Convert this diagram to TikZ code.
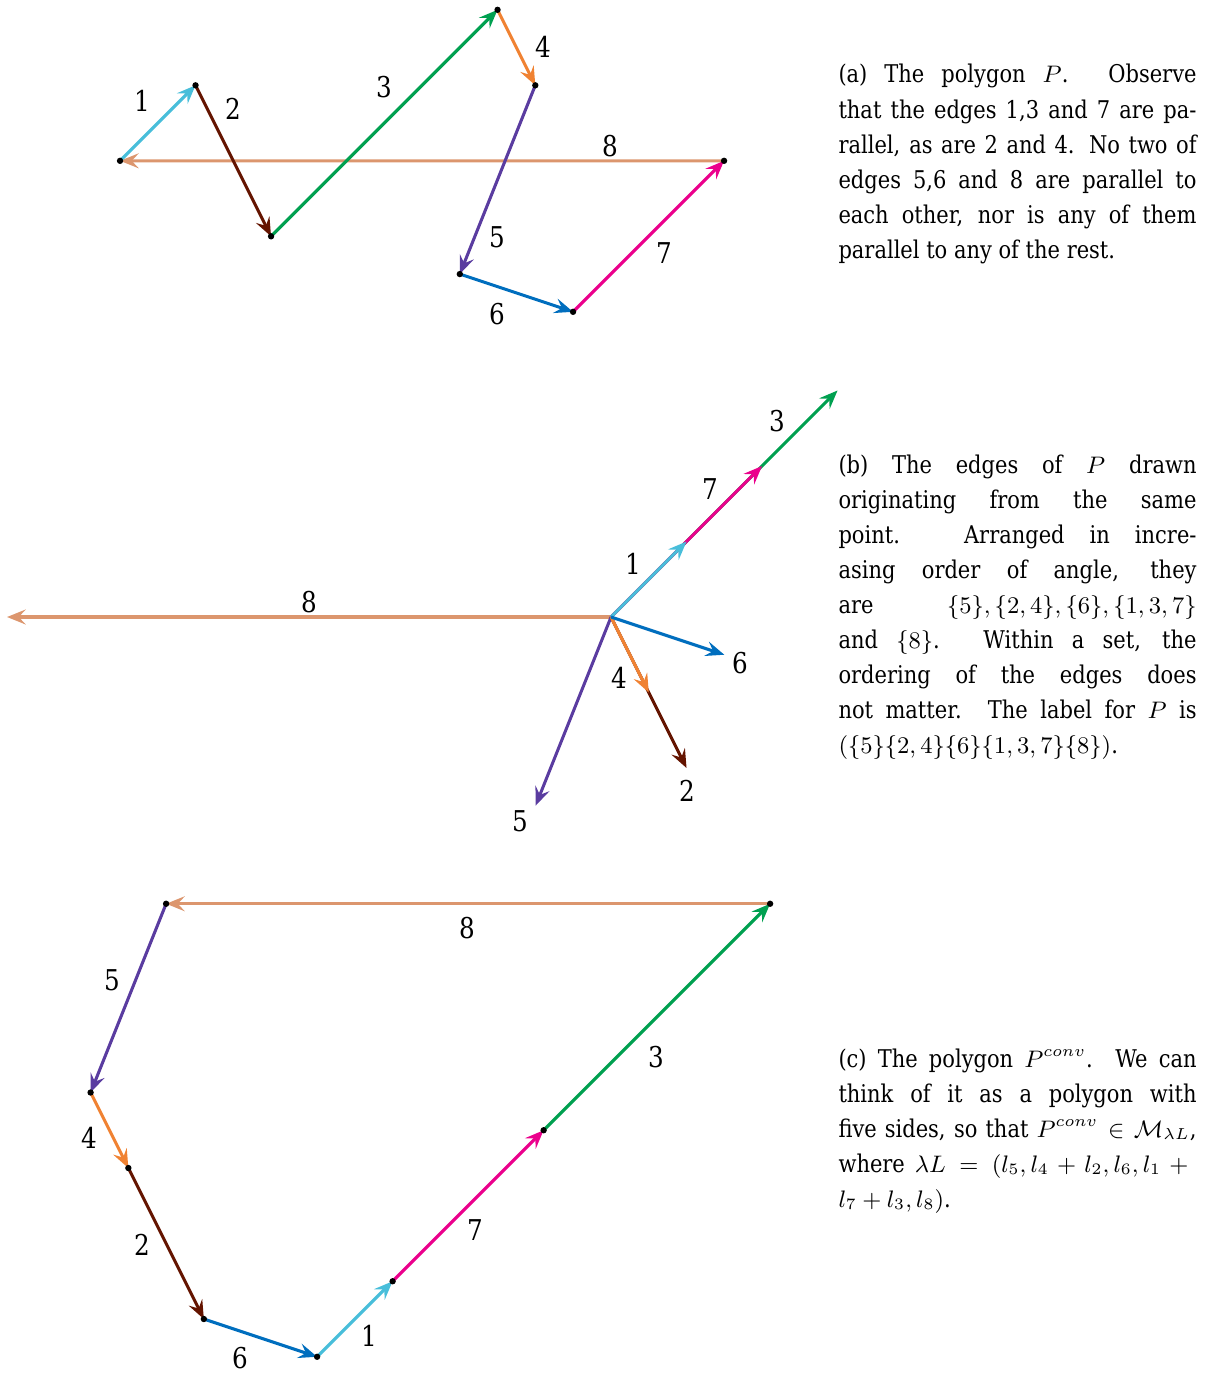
\documentclass[tikz,border=0pt]{standalone}
\usepackage{fontspec}
\setmainfont{DejaVu Serif}[FakeStretch=0.86, WordSpace={1,1,1.8}]
\usepackage{tikz}
\usetikzlibrary{arrows.meta,positioning,calc}
\definecolor{eun}{RGB}{72,190,218}
\definecolor{edeux}{RGB}{100,20,0}
\definecolor{etrois}{RGB}{0,160,80}
\definecolor{equatre}{RGB}{240,130,50}
\definecolor{ecinq}{RGB}{90,60,160}
\definecolor{esix}{RGB}{0,110,190}
\definecolor{esept}{RGB}{235,0,140}
\definecolor{ehuit}{RGB}{220,150,110}
\tikzset{
  edge/.style={line width=1.15pt, -{Stealth[length=7pt,width=5.6pt,inset=2.6pt]}},
  vdot/.style={circle, fill=black, inner sep=0pt, minimum size=2.4pt},
  lbl/.style={font=\fontsize{10.8}{12}\selectfont, inner sep=0pt},
  capt/.style={anchor=base west, inner sep=0pt, text width=4.742cm, align=justify,
               font=\fontsize{9.2}{13.2}\selectfont}
}

\begin{document}
\begin{tikzpicture}
  \useasboundingbox (0,0) rectangle (16.013,-18.185);

  % (a) the polygon P
  \coordinate (a0) at (1.59,-2.13);
  \coordinate (a1) at ($(a0)+(1,1)$);
  \coordinate (a2) at ($(a1)+(1,-2)$);
  \coordinate (a3) at ($(a2)+(3,3)$);
  \coordinate (a4) at ($(a3)+(0.5,-1)$);
  \coordinate (a5) at ($(a4)+(-1,-2.5)$);
  \coordinate (a6) at ($(a5)+(1.5,-0.5)$);
  \coordinate (a7) at ($(a6)+(2,2)$);
  \draw[edge, ehuit] (a7) -- (a0);
  \draw[edge, eun] (a0) -- (a1);
  \draw[edge, edeux] (a1) -- (a2);
  \draw[edge, etrois] (a2) -- (a3);
  \draw[edge, equatre] (a3) -- (a4);
  \draw[edge, ecinq] (a4) -- (a5);
  \draw[edge, esix] (a5) -- (a6);
  \draw[edge, esept] (a6) -- (a7);
  \foreach \i in {0,...,7} \node[vdot] (da\i) at (a\i) {};

  \node[lbl] (la1) at (1.881,-1.338) {1};
  \node[lbl] (la2) at (3.086,-1.444) {2};
  \node[lbl] (la3) at (5.086,-1.152) {3};
  \node[lbl] (la4) at (7.192,-0.623) {4};
  \node[lbl] (la5) at (6.583,-3.139) {5};
  \node[lbl] (la6) at (6.583,-4.159) {6};
  \node[lbl] (la7) at (8.795,-3.351) {7};
  \node[lbl] (la8) at (8.079,-1.934) {8};

  % (b) all edges from one point
  \coordinate (o) at (8.093,-8.172);
  \coordinate (b8) at ($(o)+(-8,0)$);
  \coordinate (b5) at ($(o)+(-1,-2.5)$);
  \coordinate (b3) at ($(o)+(3,3)$);
  \coordinate (b7) at ($(o)+(2,2)$);
  \coordinate (b1) at ($(o)+(1,1)$);
  \coordinate (b2) at ($(o)+(1,-2)$);
  \coordinate (b4) at ($(o)+(0.5,-1)$);
  \coordinate (b6) at ($(o)+(1.5,-0.5)$);
  \draw[edge, ehuit] (o) -- (b8);
  \draw[edge, ecinq] (o) -- (b5);
  \draw[edge, etrois] (o) -- (b3);
  \draw[edge, esept] (o) -- (b7);
  \draw[edge, eun] (o) -- (b1);
  \draw[edge, edeux] (o) -- (b2);
  \draw[edge, equatre] (o) -- (b4);
  \draw[edge, esix] (o) -- (b6);

  \node[lbl] (lb3) at (10.291,-5.576) {3};
  \node[lbl] (lb7) at (9.404,-6.477) {7};
  \node[lbl] (lb1) at (8.384,-7.470) {1};
  \node[lbl] (lb8) at (4.093,-7.974) {8};
  \node[lbl] (lb6) at (9.801,-8.781) {6};
  \node[lbl] (lb4) at (8.199,-8.980) {4};
  \node[lbl] (lb2) at (9.099,-10.477) {2};
  \node[lbl] (lb5) at (6.887,-10.874) {5};

  % (c) the polygon P^conv
  \coordinate (c0) at (10.20,-11.97);
  \coordinate (c1) at ($(c0)+(-8,0)$);
  \coordinate (c2) at ($(c1)+(-1,-2.5)$);
  \coordinate (c3) at ($(c2)+(0.5,-1)$);
  \coordinate (c4) at ($(c3)+(1,-2)$);
  \coordinate (c5) at ($(c4)+(1.5,-0.5)$);
  \coordinate (c6) at ($(c5)+(1,1)$);
  \coordinate (c7) at ($(c6)+(2,2)$);
  \draw[edge, ehuit] (c0) -- (c1);
  \draw[edge, ecinq] (c1) -- (c2);
  \draw[edge, equatre] (c2) -- (c3);
  \draw[edge, edeux] (c3) -- (c4);
  \draw[edge, esix] (c4) -- (c5);
  \draw[edge, eun] (c5) -- (c6);
  \draw[edge, esept] (c6) -- (c7);
  \draw[edge, etrois] (c7) -- (c0);
  \foreach \i in {0,...,7} \node[vdot] (dc\i) at (c\i) {};

  \node[lbl] (lc8) at (6.185,-12.291) {8};
  \node[lbl] (lc5) at (1.483,-12.980) {5};
  \node[lbl] (lc3) at (8.689,-14.000) {3};
  \node[lbl] (lc4) at (1.179,-15.073) {4};
  \node[lbl] (lc2) at (1.881,-16.490) {2};
  \node[lbl] (lc7) at (6.291,-16.291) {7};
  \node[lbl] (lc1) at (4.887,-17.695) {1};
  \node[lbl] (lc6) at (3.179,-17.985) {6};

  % Captions
  \node[capt] (capa) at (11.099,-1.099) {(a) The polygon $P$. Observe\linebreak
    that the edges 1,3 and 7 are pa-\linebreak
    rallel, as are 2 and 4. No two of\linebreak
    edges 5,6 and 8 are parallel to\linebreak
    each other, nor is any of them\linebreak
    parallel to any of the rest.};
  \node[capt] (capb) at (11.099,-6.265) {(b) The edges of $P$ drawn\linebreak
    originating from the same\linebreak
    point. Arranged in incre-\linebreak
    asing order of angle, they\linebreak
    are $\{5\},\{2,4\},\{6\},\{1,3,7\}$\linebreak
    and $\{8\}$. Within a set, the\linebreak
    ordering of the edges does\linebreak
    not matter. The label for $P$ is\linebreak
    $(\{5\}\{2,4\}\{6\}\{1,3,7\}\{8\})$.};
  \node[capt] (capc) at (11.099,-14.132) {(c) The polygon $P^{conv}$. We can\linebreak
    think of it as a polygon with\linebreak
    five sides, so that $P^{conv}\in\mathcal{M}_{\lambda L}$,\linebreak
    where $\lambda L=(l_5,l_4+l_2,l_6,l_1+{}$\linebreak
    $l_7+l_3,l_8)$.};
\end{tikzpicture}
\end{document}
